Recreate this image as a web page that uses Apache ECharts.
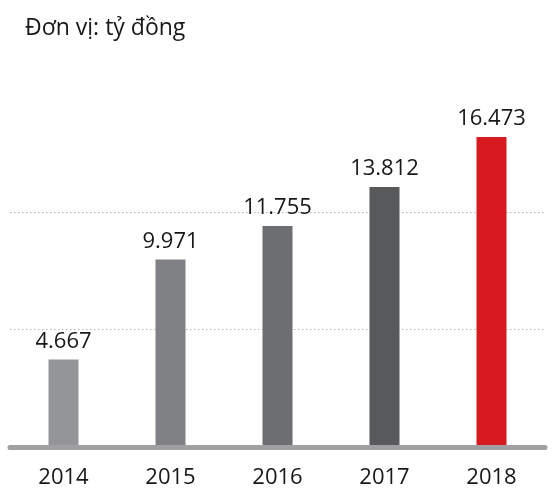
<!DOCTYPE html>
<html>
<head>
<meta charset="utf-8">
<script src="https://cdn.jsdelivr.net/npm/echarts@6/dist/echarts.min.js"></script>
<style>
  html, body { margin: 0; padding: 0; background: #fff; }
  #chart { width: 553px; height: 491px; }
</style>
</head>
<body>
<div id="chart"></div>
<script>
// Chart data
const years = ["2014", "2015", "2016", "2017", "2018"];
const values = [4.667, 9.971, 11.755, 13.812, 16.473];
const barColors = ["#939598", "#808184", "#6d6e71", "#58595b", "#d71920"];

const chartDom = document.getElementById("chart");
const myChart = echarts.init(chartDom);

const textColor = "#1a1718";
const fontFamily = "'Open Sans', 'Noto Sans', sans-serif";

const option = {
  animation: false,
  title: {
    text: "Đơn vị: tỷ đồng",
    left: 20,
    top: 12,
    textStyle: {
      fontFamily: fontFamily,
      fontSize: 23,
      fontWeight: "normal",
      color: textColor,
    },
  },
  grid: {
    left: 10,
    right: 8,
    top: 94,
    bottom: 43.5,
  },
  xAxis: {
    type: "category",
    data: years,
    z: 10,
    axisLine: {
      lineStyle: { color: "#a0a0a3", width: 5 },
    },
    axisTick: { show: false },
    axisLabel: {
      margin: 19,
      fontFamily: fontFamily,
      fontSize: 22,
      color: textColor,
    },
  },
  yAxis: {
    type: "value",
    min: 0,
    max: 18.75,
    interval: 6.25,
    axisLine: { show: false },
    axisTick: { show: false },
    axisLabel: { show: false },
    splitLine: {
      showMinLine: false,
      showMaxLine: false,
      lineStyle: { color: "#b5b5b8", type: [1.5, 2.5], width: 1 },
    },
  },
  series: [
    {
      type: "bar",
      data: values.map((v, i) => ({
        value: v,
        itemStyle: { color: barColors[i] },
      })),
      barWidth: 30,
      label: {
        show: true,
        position: "top",
        distance: 7,
        fontFamily: fontFamily,
        fontSize: 22,
        color: textColor,
        formatter: (p) => p.value.toFixed(3),
      },
    },
  ],
};

myChart.setOption(option);
</script>
</body>
</html>
